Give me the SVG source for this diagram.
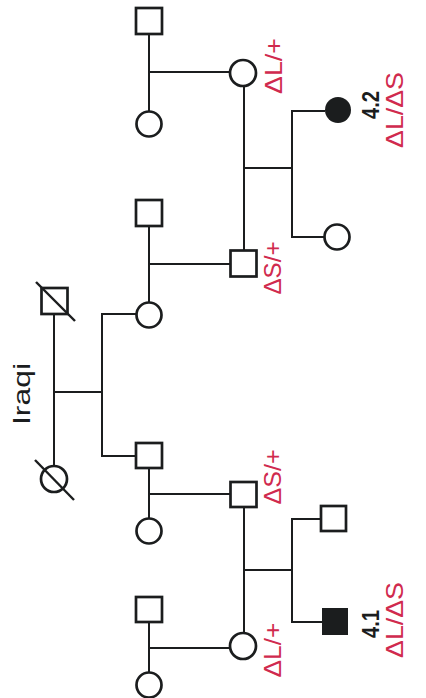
<svg xmlns="http://www.w3.org/2000/svg" width="426" height="698" viewBox="0 0 426 698">
<style>
.ln{stroke:#1b1d1e;stroke-width:2;fill:none}
.nd{stroke:#1b1d1e;stroke-width:2.7;fill:#fff}
.af{fill:#1b1d1e}
.sl{stroke:#1b1d1e;stroke-width:2.4}
.lb{font-family:"Liberation Sans",Arial,sans-serif;font-size:24px;fill:#d02a4e;text-anchor:middle}
.id{font-family:"Liberation Sans",Arial,sans-serif;font-size:24px;font-weight:bold;fill:#1b1d1e;text-anchor:middle}
.eth{font-family:"Liberation Sans",Arial,sans-serif;font-size:24px;fill:#1b1d1e;text-anchor:middle}
</style>
<rect width="426" height="698" fill="#fff"/>
<g id="connectors">
<line class="ln" x1="54" y1="314" x2="54" y2="466"/>
<line class="ln" x1="54" y1="392" x2="102" y2="392"/>
<polyline class="ln" points="136,314 102,314 102,456 136,456"/>
<line class="ln" x1="149" y1="34" x2="149" y2="112"/>
<line class="ln" x1="149" y1="72" x2="230" y2="72"/>
<line class="ln" x1="149" y1="226" x2="149" y2="302"/>
<line class="ln" x1="149" y1="264" x2="230" y2="264"/>
<line class="ln" x1="149" y1="468" x2="149" y2="518"/>
<line class="ln" x1="149" y1="494" x2="230" y2="494"/>
<line class="ln" x1="149" y1="622" x2="149" y2="672"/>
<line class="ln" x1="149" y1="648" x2="230" y2="648"/>
<line class="ln" x1="244" y1="86" x2="244" y2="250"/>
<line class="ln" x1="244" y1="168" x2="292" y2="168"/>
<polyline class="ln" points="325,111 292,111 292,237 324,237"/>
<line class="ln" x1="244" y1="507" x2="244" y2="633"/>
<line class="ln" x1="244" y1="570" x2="292" y2="570"/>
<polyline class="ln" points="321,519 292,519 292,622 322,622"/>
</g>
<g id="iraqi-label"><text class="eth" transform="translate(30,394) rotate(-90)" textLength="62" lengthAdjust="spacingAndGlyphs">Iraqi</text></g>
<g id="I1"><rect class="nd" x="41.5" y="288" width="26" height="26"/><line class="sl" x1="36" y1="282" x2="75" y2="321"/></g>
<g id="I2"><circle class="nd" cx="54" cy="479" r="13"/><line class="sl" x1="35" y1="460" x2="74" y2="500"/></g>
<g id="II1"><rect class="nd" x="136" y="8" width="26" height="26"/></g>
<g id="II2"><circle class="nd" cx="149" cy="124" r="12.5"/></g>
<g id="II3"><rect class="nd" x="136" y="200" width="26" height="26"/></g>
<g id="II4"><circle class="nd" cx="149" cy="315" r="12.5"/></g>
<g id="II5"><rect class="nd" x="136" y="443" width="26" height="25"/></g>
<g id="II6"><circle class="nd" cx="149" cy="531" r="12.5"/></g>
<g id="II7"><rect class="nd" x="136" y="597" width="26" height="25"/></g>
<g id="II8"><circle class="nd" cx="149" cy="685" r="12.5"/></g>
<g id="III1"><circle class="nd" cx="243" cy="73" r="13"/><text class="lb" transform="translate(282,66) rotate(-90)" textLength="56" lengthAdjust="spacingAndGlyphs">ΔL/+</text></g>
<g id="III2"><rect class="nd" x="230.5" y="250.5" width="26" height="26"/><text class="lb" transform="translate(281,268) rotate(-90)" textLength="53" lengthAdjust="spacingAndGlyphs">ΔS/+</text></g>
<g id="III3"><rect class="nd" x="230.5" y="482" width="26" height="25"/><text class="lb" transform="translate(281,477) rotate(-90)" textLength="55" lengthAdjust="spacingAndGlyphs">ΔS/+</text></g>
<g id="III4"><circle class="nd" cx="243" cy="646" r="13"/><text class="lb" transform="translate(281,650) rotate(-90)" textLength="55" lengthAdjust="spacingAndGlyphs">ΔL/+</text></g>
<g id="IV-4.2"><circle class="af" cx="338" cy="110" r="13"/><text class="id" transform="translate(379,105) rotate(-90)" textLength="28" lengthAdjust="spacingAndGlyphs">4.2</text><text class="lb" transform="translate(403,110) rotate(-90)" textLength="76" lengthAdjust="spacingAndGlyphs">ΔL/ΔS</text></g>
<g id="IV2"><circle class="nd" cx="337" cy="237" r="12.5"/></g>
<g id="IV3"><rect class="nd" x="321" y="506" width="25" height="25"/></g>
<g id="IV-4.1"><rect class="af" x="322" y="608" width="26" height="27"/><text class="id" transform="translate(379,624) rotate(-90)" textLength="28" lengthAdjust="spacingAndGlyphs">4.1</text><text class="lb" transform="translate(403,620) rotate(-90)" textLength="76" lengthAdjust="spacingAndGlyphs">ΔL/ΔS</text></g>
</svg>
